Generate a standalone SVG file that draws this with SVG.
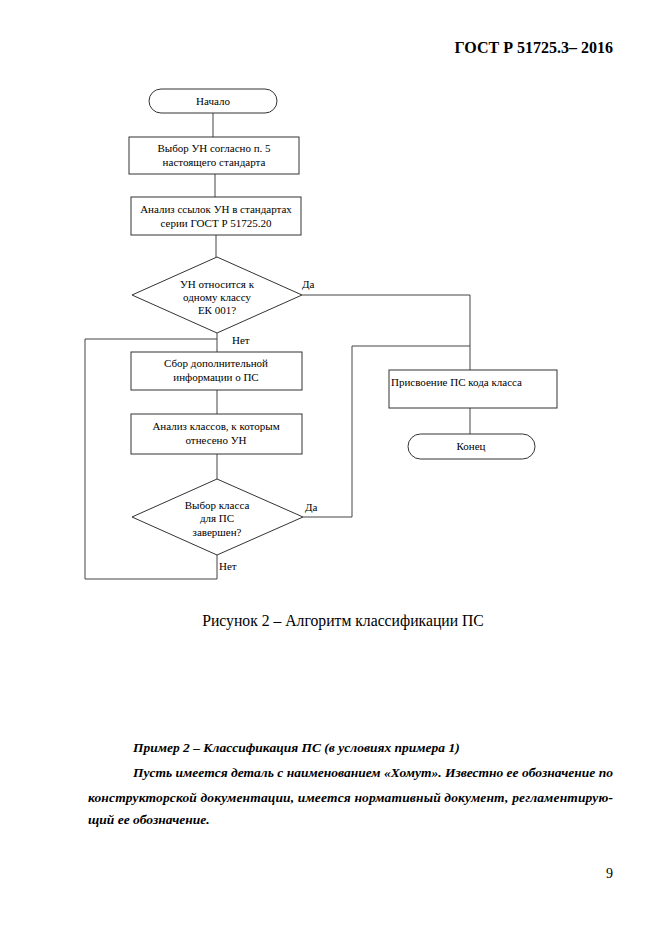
<svg xmlns="http://www.w3.org/2000/svg" width="661" height="935" viewBox="0 0 661 935">
<style>
.shape{fill:#fff;stroke:#333;stroke-width:1}
.line{fill:none;stroke:#444;stroke-width:1}
.t{font-size:11px;fill:#000}
.c{text-anchor:middle}
.body{font-size:13.5px;font-weight:bold;font-style:italic;fill:#000}
</style>
<rect width="661" height="935" fill="#fff"/>
<g font-family="'Liberation Serif', 'DejaVu Serif', serif">
<text x="613" y="53" text-anchor="end" font-size="16" font-weight="bold">ГОСТ Р 51725.3– 2016</text>
<g id="connectors">
<path class="line" d="M213 113V137"/>
<path class="line" d="M215 174V197"/>
<path class="line" d="M216 235V257"/>
<path class="line" d="M217 333V352"/>
<path class="line" d="M217 390V414"/>
<path class="line" d="M217 454V479"/>
<path class="line" d="M217 555V579H85V339H217"/>
<path class="line" d="M302 295H470V370"/>
<path class="line" d="M303 517H352V346H470"/>
<path class="line" d="M470 408V434"/>
</g>
<g id="start">
<rect class="shape" x="149" y="89" width="128" height="24" rx="12"/>
<text class="t c" x="213" y="105">Начало</text>
</g>
<g id="select">
<rect class="shape" x="129" y="137" width="170" height="37"/>
<text class="t c" x="214" y="152">Выбор УН согласно п. 5</text>
<text class="t c" x="214" y="166">настоящего стандарта</text>
</g>
<g id="analysis-refs">
<rect class="shape" x="131" y="197" width="170" height="38"/>
<text class="t c" x="216" y="213">Анализ ссылок УН в стандартах</text>
<text class="t c" x="216" y="227">серии ГОСТ Р 51725.20</text>
</g>
<g id="decision1">
<polygon class="shape" points="217,257 302,295 217,333 132,295"/>
<text class="t c" x="217" y="288">УН относится к</text>
<text class="t c" x="217" y="301">одному классу</text>
<text class="t c" x="217" y="314">ЕК 001?</text>
<text class="t" x="302" y="288">Да</text>
<text class="t" x="232" y="344">Нет</text>
</g>
<g id="collect">
<rect class="shape" x="131" y="352" width="171" height="38"/>
<text class="t c" x="216" y="367">Сбор дополнительной</text>
<text class="t c" x="216" y="381">информации о ПС</text>
</g>
<g id="analysis-classes">
<rect class="shape" x="131" y="414" width="171" height="40"/>
<text class="t c" x="216" y="430">Анализ классов, к которым</text>
<text class="t c" x="216" y="444">отнесено УН</text>
</g>
<g id="decision2">
<polygon class="shape" points="217,479 303,517 217,555 132,517"/>
<text class="t c" x="217" y="509">Выбор класса</text>
<text class="t c" x="217" y="522">для ПС</text>
<text class="t c" x="217" y="536">завершен?</text>
<text class="t" x="305" y="511">Да</text>
<text class="t" x="219" y="570">Нет</text>
</g>
<g id="assign">
<rect class="shape" x="389" y="370" width="168" height="38"/>
<text class="t" x="391" y="386">Присвоение ПС кода класса</text>
</g>
<g id="end">
<rect class="shape" x="408" y="434" width="127" height="25" rx="12.5"/>
<text class="t c" x="471" y="450">Конец</text>
</g>
<text x="343" y="626" text-anchor="middle" font-size="15.7">Рисунок 2 – Алгоритм классификации ПС</text>
<text class="body" x="133" y="752">Пример 2 – Классификация ПС (в условиях примера 1)</text>
<text class="body" x="133" y="777" textLength="480" lengthAdjust="spacing">Пусть имеется деталь с наименованием «Хомут». Известно ее обозначение по</text>
<text class="body" x="88" y="802" textLength="525" lengthAdjust="spacing">конструкторской документации, имеется нормативный документ, регламентирую-</text>
<text class="body" x="88" y="824">щий ее обозначение.</text>
<text x="606" y="878" font-size="14">9</text>
</g>
</svg>
